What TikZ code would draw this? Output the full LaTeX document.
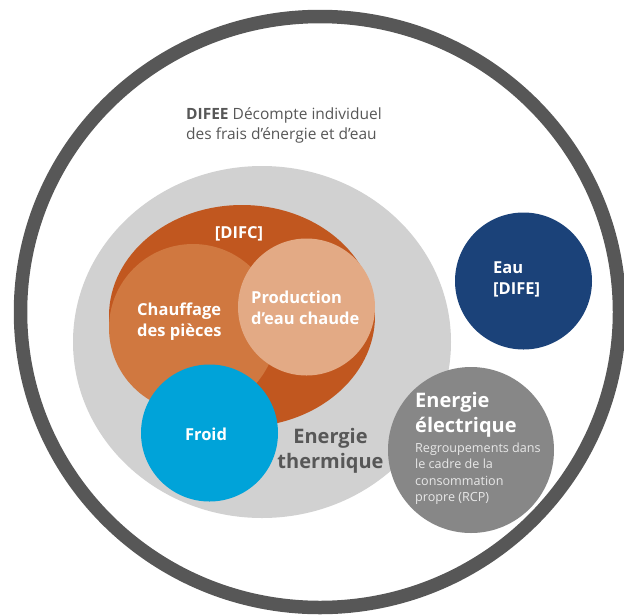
\documentclass[tikz,border=0pt]{standalone}
\usepackage{fontspec}
\setmainfont{Open Sans}
\definecolor{ringc}{HTML}{575757}
\definecolor{lgray}{HTML}{D1D1D1}
\definecolor{difc}{HTML}{C1571F}
\definecolor{chauf}{HTML}{D07840}
\definecolor{prod}{HTML}{E3AA85}
\definecolor{froid}{HTML}{00A3D9}
\definecolor{eau}{HTML}{1B4279}
\definecolor{elec}{HTML}{878787}
\definecolor{txtg}{HTML}{575757}
\definecolor{smallt}{HTML}{E8E8E8}
\tikzset{
  lbl/.style={inner sep=0pt, text=white, font=\fontsize{16.5}{21}\selectfont\bfseries},
  biglbl/.style={inner sep=0pt, font=\fontsize{20}{25}\selectfont\bfseries},
  smalllbl/.style={inner sep=0pt, text=smallt, font=\fontsize{12.6}{16.2}\selectfont},
}
\begin{document}
\begin{tikzpicture}[x=1pt,y=-1pt]
\useasboundingbox (0,0) rectangle (624,614);
% outer ring
\draw[ringc, line width=13.5pt] (320,312) ellipse [x radius=299.5, y radius=295.5];
% thermal energy
\fill[lgray] (262,342) ellipse [x radius=189, y radius=176];
\fill[difc] (242,316) ellipse [x radius=133, y radius=111];
\fill[chauf] (193,328) circle [radius=84];
\fill[prod] (306.5,307) circle [radius=68.5];
\fill[froid] (209.5,433) circle [radius=68.5];
% water and electricity
\fill[eau] (523.5,281) circle [radius=68.5];
\fill[elec] (471,450) circle [radius=83];
% texts
\node[inner sep=0pt, anchor=north west, align=left, text=txtg,
      font=\fontsize{15.5}{20.5}\selectfont] (difee) at (186,107)
  {\textbf{DIFEE} Décompte individuel\\des frais d’énergie et d’eau};
\node[lbl, anchor=base] (difclbl) at (239,238) {[DIFC]};
\node[lbl, anchor=north west, align=left] (chauflbl) at (137,303)
  {Chauffage\\des pièces};
\node[lbl, anchor=north west, align=left] (prodlbl) at (251,291)
  {Production\\d’eau chaude};
\node[lbl, anchor=base] (froidlbl) at (206,440) {Froid};
\node[biglbl, anchor=north, align=center, text=txtg] (thermlbl) at (330.5,428)
  {Energie\\thermique};
\node[lbl, anchor=north west, align=left] (eaulbl) at (493,262)
  {Eau\\{}[DIFE]};
\node[biglbl, anchor=north west, align=left, text=white] (eleclbl) at (415,392)
  {Energie\\électrique};
\node[smalllbl, anchor=north west, align=left] (rcplbl) at (415,443)
  {Regroupements dans\\le cadre de la\\consommation\\propre (RCP)};
\end{tikzpicture}
\end{document}
